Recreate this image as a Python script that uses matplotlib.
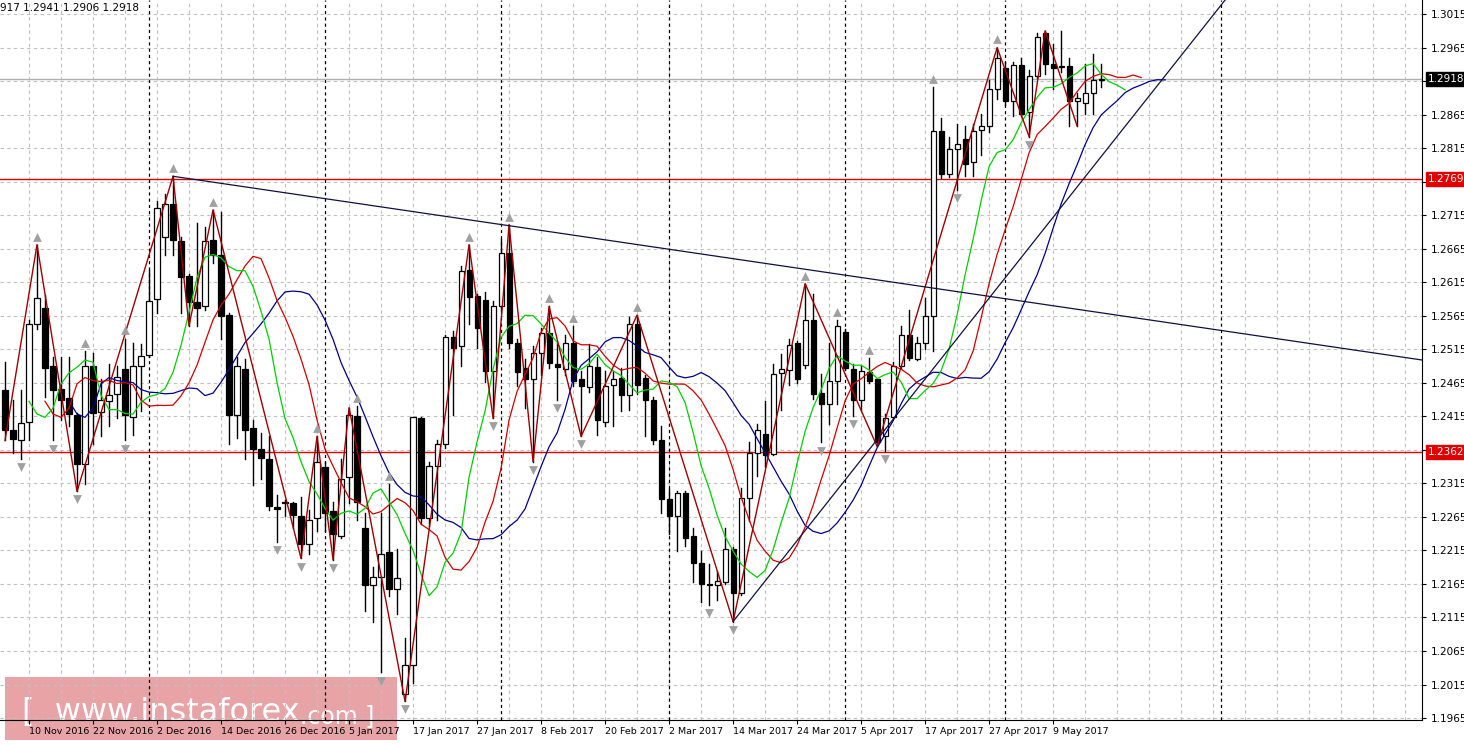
import numpy as np
import matplotlib
matplotlib.use("Agg")
import matplotlib.pyplot as plt
from matplotlib.patches import Rectangle

# ---------------- data (daily GBPUSD candles) ----------------
opens = [1.2455,1.2395,1.2379,1.2406,1.2553,1.2577,1.2490,1.2456,1.2442,1.2417,
         1.2344,1.2490,1.2421,1.2438,1.2448,1.2485,1.2414,1.2490,1.2506,1.2590,
         1.2683,1.2731,1.2677,1.2624,1.2585,1.2580,1.2678,1.2655,1.2566,1.2417,
         1.2485,1.2397,1.2366,1.2352,1.2280,1.2287,1.2285,1.2267,1.2225,1.2263,
         1.2340,1.2274,1.2237,1.2325,1.2415,1.2249,1.2163,1.2176,1.2212,1.2157,
         1.2001,1.2044,1.2413,1.2263,1.2341,1.2374,1.2533,1.2520,1.2633,1.2595,
         1.2589,1.2483,1.2579,1.2658,1.2525,1.2487,1.2470,1.2509,1.2539,1.2493,
         1.2486,1.2525,1.2470,1.2459,1.2489,1.2406,1.2461,1.2472,1.2447,1.2553,
         1.2472,1.2440,1.2379,1.2292,1.2266,1.2301,1.2236,1.2196,1.2165,1.2164,
         1.2168,1.2217,1.2152,1.2293,1.2360,1.2388,1.2359,1.2479,1.2484,1.2524,
         1.2492,1.2559,1.2450,1.2433,1.2468,1.2541,1.2486,1.2439,1.2481,1.2470,
         1.2385,1.2414,1.2490,1.2536,1.2500,1.2525,1.2564,1.2840,1.2777,1.2814,
         1.2829,1.2794,1.2842,1.2848,1.2903,1.2934,1.2885,1.2939,1.2869,1.2922,
         1.2987,1.2940,1.2936,1.2938,1.2886,1.2883,1.2897,1.2917]
highs = [1.2496,1.2439,1.2455,1.2558,1.2671,1.2596,1.2504,1.2504,1.2504,1.2420,
         1.2512,1.2509,1.2471,1.2493,1.2490,1.2531,1.2525,1.2523,1.2633,1.2736,
         1.2747,1.2773,1.2682,1.2628,1.2704,1.2698,1.2723,1.2720,1.2569,1.2504,
         1.2501,1.2409,1.2390,1.2385,1.2298,1.2290,1.2287,1.2295,1.2276,1.2385,
         1.2347,1.2287,1.2352,1.2428,1.2431,1.2271,1.2190,1.2271,1.2314,1.2217,
         1.2084,1.2414,1.2414,1.2347,1.2379,1.2536,1.2542,1.2639,1.2671,1.2598,
         1.2601,1.2587,1.2679,1.2701,1.2531,1.2501,1.2520,1.2547,1.2579,1.2525,
         1.2536,1.2550,1.2482,1.2523,1.2504,1.2482,1.2482,1.2487,1.2563,1.2566,
         1.2477,1.2444,1.2401,1.2306,1.2303,1.2303,1.2249,1.2214,1.2195,1.2184,
         1.2249,1.2220,1.2308,1.2376,1.2404,1.2438,1.2493,1.2508,1.2530,1.2527,
         1.2613,1.2597,1.2478,1.2524,1.2558,1.2545,1.2493,1.2490,1.2502,1.2471,
         1.2419,1.2496,1.2549,1.2574,1.2533,1.2592,1.2906,1.2860,1.2832,1.2851,
         1.2848,1.2851,1.2866,1.2916,1.2965,1.2943,1.2943,1.2950,1.2931,1.2987,
         1.2990,1.2971,1.2990,1.2950,1.2897,1.2940,1.2956,1.2941]
lows = [1.2379,1.2360,1.2352,1.2379,1.2545,1.2444,1.2379,1.2409,1.2401,1.2303,
        1.2314,1.2374,1.2385,1.2401,1.2412,1.2379,1.2387,1.2423,1.2504,1.2569,
        1.2655,1.2655,1.2569,1.2550,1.2550,1.2574,1.2644,1.2531,1.2374,1.2382,
        1.2352,1.2312,1.2322,1.2276,1.2228,1.2266,1.2249,1.2203,1.2209,1.2244,
        1.2244,1.2201,1.2233,1.2285,1.2260,1.2125,1.2109,1.2033,1.2147,1.2120,
        1.1990,1.2017,1.2255,1.2252,1.2260,1.2368,1.2417,1.2490,1.2552,1.2517,
        1.2466,1.2412,1.2574,1.2517,1.2460,1.2428,1.2347,1.2477,1.2487,1.2439,
        1.2477,1.2460,1.2385,1.2452,1.2387,1.2401,1.2401,1.2423,1.2425,1.2448,
        1.2385,1.2374,1.2271,1.2239,1.2214,1.2222,1.2168,1.2138,1.2133,1.2141,
        1.2165,1.2109,1.2148,1.2259,1.2326,1.2339,1.2357,1.2425,1.2462,1.2465,
        1.2487,1.2441,1.2376,1.2404,1.2434,1.2484,1.2416,1.2425,1.2465,1.2370,
        1.2363,1.2413,1.2487,1.2499,1.2499,1.2515,1.2513,1.2771,1.2772,1.2752,
        1.2774,1.2774,1.2805,1.2839,1.2888,1.2879,1.2863,1.2863,1.2832,1.2919,
        1.2925,1.2903,1.2928,1.2848,1.2848,1.2866,1.2866,1.2906]
closes = [1.2395,1.2381,1.2405,1.2552,1.2591,1.2487,1.2455,1.2440,1.2418,1.2344,
          1.2490,1.2420,1.2439,1.2447,1.2474,1.2417,1.2490,1.2505,1.2587,1.2725,
          1.2731,1.2678,1.2623,1.2585,1.2577,1.2677,1.2655,1.2564,1.2417,1.2490,
          1.2395,1.2366,1.2353,1.2282,1.2277,1.2286,1.2268,1.2225,1.2260,1.2347,
          1.2271,1.2239,1.2322,1.2417,1.2287,1.2163,1.2176,1.2209,1.2157,1.2174,
          1.2044,1.2414,1.2263,1.2341,1.2373,1.2533,1.2517,1.2631,1.2593,1.2546,
          1.2483,1.2579,1.2658,1.2525,1.2481,1.2470,1.2509,1.2539,1.2494,1.2488,
          1.2525,1.2468,1.2460,1.2490,1.2409,1.2460,1.2470,1.2447,1.2553,1.2461,
          1.2439,1.2379,1.2292,1.2266,1.2301,1.2234,1.2196,1.2165,1.2164,1.2169,
          1.2217,1.2152,1.2293,1.2360,1.2394,1.2357,1.2478,1.2485,1.2521,1.2471,
          1.2558,1.2449,1.2433,1.2468,1.2549,1.2487,1.2439,1.2482,1.2468,1.2376,
          1.2413,1.2490,1.2537,1.2502,1.2525,1.2564,1.2840,1.2777,1.2813,1.2821,
          1.2792,1.2840,1.2848,1.2903,1.2950,1.2885,1.2939,1.2866,1.2922,1.2980,
          1.2940,1.2934,1.2938,1.2885,1.2889,1.2897,1.2916,1.2918]

# zigzag pivots (bar index, price)
zz_idx = [0, 4, 9, 21, 23, 26, 37, 39, 41, 43, 50, 58, 61, 63, 66, 68, 72, 79, 91, 100, 109, 124, 128, 130, 134]
zz_val = [1.2379, 1.2671, 1.2303, 1.2773, 1.2550, 1.2723, 1.2203, 1.2385, 1.2201, 1.2428, 1.1990,
          1.2671, 1.2412, 1.2701, 1.2347, 1.2579, 1.2385, 1.2566, 1.2109, 1.2613, 1.2370,
          1.2965, 1.2832, 1.2990, 1.2848]

# trend lines (bar index, price)
tl1_idx = [21, 177.1]
tl1_val = [1.2773, 1.2499]
tl2_idx = [91, 152.5]
tl2_val = [1.2109, 1.3036]

levels = [1.2769, 1.2362]
last_price = 1.2918
month_sep = [18, 40, 62, 83, 105, 125, 152]
tick_dates = ["31 Oct 2016", "10 Nov 2016", "22 Nov 2016", "2 Dec 2016", "14 Dec 2016",
              "26 Dec 2016", "5 Jan 2017", "17 Jan 2017", "27 Jan 2017", "8 Feb 2017",
              "20 Feb 2017", "2 Mar 2017", "14 Mar 2017", "24 Mar 2017", "5 Apr 2017",
              "17 Apr 2017", "27 Apr 2017", "9 May 2017"]
price_ticks = [round(1.1965 + 0.005 * k, 4) for k in range(22)]
hidden_ticks = [1.2915, 1.2765, 1.2365]

# ---------------- figure ----------------
W, H = 1464, 746
fig = plt.figure(figsize=(W / 100, H / 100), dpi=100)
fig.patch.set_facecolor("white")
ax = fig.add_axes([0, 26 / H, 1422 / W, 720 / H])
ax.patch.set_alpha(0)
xmin, xmax = -0.625, 177.1
ymin, ymax = 1.19621, 1.30359

o = np.array(opens); h = np.array(highs); l = np.array(lows); c = np.array(closes)
n = len(c)
idx = np.arange(n)

# grid
for i in np.arange(-1, 178, 4):
    ax.axvline(i, color="#c0c0c0", lw=0.8, ls=(0, (3, 3)), zorder=0)
for p in price_ticks:
    ax.axhline(p, color="#c0c0c0", lw=0.8, ls=(0, (3, 3)), zorder=0)
for m in month_sep:
    ax.axvline(m, color="black", lw=0.9, ls=(0, (2.5, 2.5)), zorder=1)

# levels
for lv in levels:
    ax.axhline(lv, color="#e00000", lw=1.0, zorder=2)
ax.axhline(last_price, color="#b0b0b0", lw=1.0, zorder=2)

# candles
for i in range(n):
    ax.plot([i, i], [l[i], h[i]], color="black", lw=1.0, zorder=4)
    lo, hi = min(o[i], c[i]), max(o[i], c[i])
    hgt = max(hi - lo, 0.00004)
    fc = "white" if c[i] >= o[i] else "black"
    ax.add_patch(Rectangle((i - 0.32, lo), 0.64, hgt, facecolor=fc,
                           edgecolor="black", lw=0.9, zorder=5))

# Alligator-style moving averages of median price (shifted forward)
med = (h + l) / 2
def sma(x, p):
    out = np.full(len(x), np.nan)
    for k in range(len(x)):
        out[k] = x[max(0, k - p + 1):k + 1].mean()
    return out
for per, sh, col in [(13, 8, "#00008b"), (8, 5, "#d00000"), (5, 3, "#00d000")]:
    s = sma(med, per)
    ax.plot(idx + sh, s, color=col, lw=0.9, zorder=6)

# zigzag
ax.plot(zz_idx, zz_val, color="#a00000", lw=1.0, zorder=7)

# trend lines
ax.plot(tl1_idx, tl1_val, color="#101040", lw=0.9, zorder=7)
ax.plot(tl2_idx, tl2_val, color="#101040", lw=0.9, zorder=7)

# fractals
up_i, up_v, dn_i, dn_v = [], [], [], []
for i in range(2, n - 2):
    if h[i] > max(h[i-2], h[i-1], h[i+1], h[i+2]):
        up_i.append(i); up_v.append(h[i] + 0.0012)
    if l[i] < min(l[i-2], l[i-1], l[i+1], l[i+2]):
        dn_i.append(i); dn_v.append(l[i] - 0.0012)
ax.scatter(up_i, up_v, marker="^", s=40, color="#a0a0a0", zorder=8, linewidths=0)
ax.scatter(dn_i, dn_v, marker="v", s=40, color="#a0a0a0", zorder=8, linewidths=0)

# axes styling
for s in ["top", "left"]:
    ax.spines[s].set_visible(False)
ax.spines["right"].set_color("black")
ax.spines["bottom"].set_color("black")
ax.yaxis.tick_right()
ax.set_yticks(price_ticks)
ax.set_yticklabels(["" if p in hidden_ticks else f"{p:.4f}" for p in price_ticks], fontsize=7.5)
ax.tick_params(axis="y", length=3, pad=3)
ax.set_xticks([3 + 8 * k - 8 for k in range(len(tick_dates))])
ax.set_xticklabels(tick_dates, fontsize=6.8, ha="left")
ax.tick_params(axis="x", length=3, pad=2)
ax.set_xlim(xmin, xmax)
ax.set_ylim(ymin, ymax)

# price label boxes
for lv, fc in [(1.2769, "#e00000"), (1.2362, "#e00000"), (last_price, "black")]:
    ax.text(1.004, lv, f"{lv:.4f}", transform=ax.get_yaxis_transform(), fontsize=7.5,
            color="white", va="center", ha="left",
            bbox=dict(boxstyle="square,pad=0.2", fc=fc, ec=fc), zorder=10)

fig.text(0.0, 1 - 8 / H, "917 1.2941 1.2906 1.2918", fontsize=7.5, va="center", ha="left")

# watermark (behind the transparent axes)
fig.patches.append(Rectangle((5 / W, 6 / H), 392 / W, 63 / H, transform=fig.transFigure,
                             facecolor="#e8a3a7", edgecolor="none", zorder=-1))
fig.text(22 / W, 34 / H, "[  www.instaforex", fontsize=23, color="white",
         va="center", ha="left", zorder=-0.5)
fig.text(300 / W, 30 / H, ".com ]", fontsize=17, color="white",
         va="center", ha="left", zorder=-0.5)

fig.savefig("out.png", dpi=100)
